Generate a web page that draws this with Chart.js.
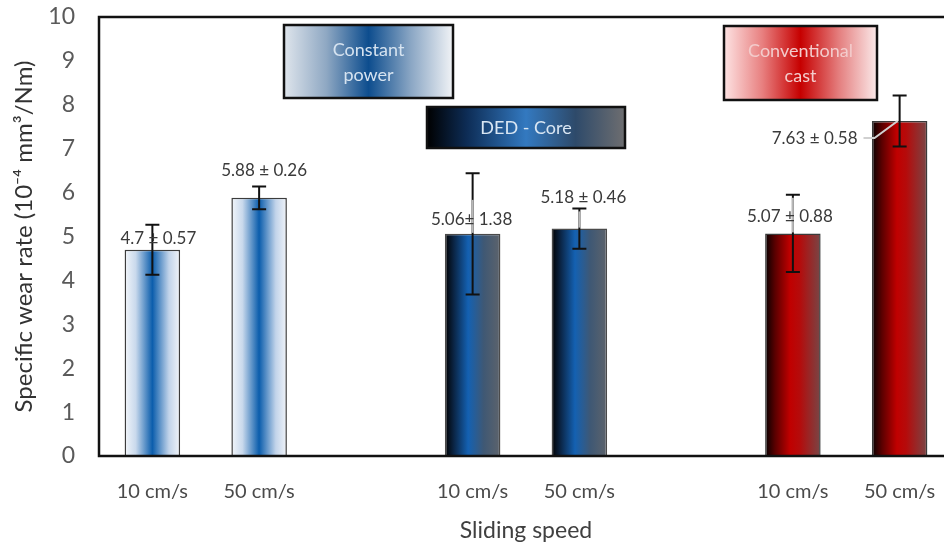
<!DOCTYPE html>
<html>
<head>
<meta charset="utf-8">
<script src="https://cdn.jsdelivr.net/npm/chart.js@4.4.1/dist/chart.umd.min.js"></script>
<style>
  html,body{margin:0;padding:0;background:#fff;overflow:hidden}
  #wrap{position:absolute;left:0;top:0;width:953px;height:549px}
</style>
</head>
<body>
<div id="wrap"><canvas id="c" width="953" height="549"></canvas></div>
<script>
// Data
const speeds = ['10 cm/s','50 cm/s','','10 cm/s','50 cm/s','','10 cm/s','50 cm/s'];
const wearRate = [4.7, 5.88, null, 5.06, 5.18, null, 5.07, 7.63];
const wearErr  = [0.57, 0.26, null, 1.38, 0.46, null, 0.88, 0.58];
const valueLabels = ['4.7 ± 0.57','5.88 ± 0.26','','5.06± 1.38','5.18 ± 0.46','','5.07 ± 0.88','7.63 ± 0.58'];
const barGroup = [0, 0, null, 1, 1, null, 2, 2];
const groupNames = [['Constant','power'], ['DED - Core'], ['Conventional','cast']];
const yTicks = [0,1,2,3,4,5,6,7,8,9,10];

const FONT = "Lato, 'Open Sans', sans-serif";
const BAR_PCT = 0.52;

// horizontal gradient stops per group
const barStops = [
  [[0,'#f3f6fa'],[0.2,'#c9d9ec'],[0.5,'#0b5dac'],[0.8,'#c2d4ea'],[1,'#f1f4f9']],
  [[0,'#000000'],[0.15,'#0a2240'],[0.42,'#1461b2'],[0.7,'#3f5874'],[1,'#5d636b']],
  [[0,'#050000'],[0.18,'#5a0000'],[0.45,'#c00000'],[0.62,'#b50b0b'],[1,'#784646']]
];
const boxStops = [
  [[0,'#dfe5ec'],[0.25,'#8fa8c3'],[0.5,'#0d4d8e'],[0.75,'#8aa6c4'],[1,'#f1f3f6']],
  [[0,'#000000'],[0.2,'#0d2c55'],[0.5,'#3379c0'],[0.75,'#2e4a6a'],[1,'#6e6e70']],
  [[0,'#fde3e3'],[0.25,'#e88080'],[0.5,'#c60000'],[0.75,'#e47e7e'],[1,'#fbeaea']]
];

function grad(ctx, x0, x1, stops){
  const g = ctx.createLinearGradient(x0, 0, x1, 0);
  stops.forEach(s => g.addColorStop(s[0], s[1]));
  return g;
}

const extras = {
  id: 'extras',
  afterDatasetsDraw(chart, args, opts){
    const {ctx, chartArea: a, scales:{x, y}} = chart;
    const meta = chart.getDatasetMeta(0);
    ctx.save();
    // plot frame
    ctx.strokeStyle = '#111'; ctx.lineWidth = 2.5;
    ctx.strokeRect(a.left, a.top, a.right - a.left + 5, a.bottom - a.top);

    // error bars
    meta.data.forEach((bar, i) => {
      if (wearRate[i] == null) return;
      const cx = bar.x;
      const yHi = y.getPixelForValue(wearRate[i] + wearErr[i]);
      const yLo = y.getPixelForValue(wearRate[i] - wearErr[i]);
      const yTop = y.getPixelForValue(wearRate[i]);
      ctx.strokeStyle = '#111'; ctx.lineWidth = 2;
      ctx.beginPath();
      ctx.moveTo(cx, yHi); ctx.lineTo(cx, yLo);
      ctx.moveTo(cx - 7, yHi); ctx.lineTo(cx + 7, yHi);
      ctx.moveTo(cx - 7, yLo); ctx.lineTo(cx + 7, yLo);
      ctx.stroke();
      const fade = opts.upperFade[i];
      if (fade) {
        ctx.strokeStyle = '#b8b8b8';
        ctx.beginPath(); ctx.moveTo(cx, Math.max(yTop - fade, yHi + 3)); ctx.lineTo(cx, yTop - 1); ctx.stroke();
      }
    });

    // value labels
    ctx.font = '17px ' + FONT;
    ctx.fillStyle = '#3a3a3a';
    ctx.textAlign = 'center'; ctx.textBaseline = 'middle';
    meta.data.forEach((bar, i) => {
      if (!valueLabels[i]) return;
      const [dx, dy] = opts.labelOffset[i];
      const lx = bar.x + dx, ly = bar.y + dy;
      ctx.fillText(valueLabels[i], lx, ly);
      if (opts.leader[i]) {
        const w = ctx.measureText(valueLabels[i]).width;
        ctx.strokeStyle = '#d0d0d0'; ctx.lineWidth = 2;
        ctx.beginPath();
        ctx.moveTo(lx + w/2 + 6, ly);
        ctx.lineTo(lx + w/2 + 17, ly);
        ctx.lineTo(bar.x - 2, bar.y);
        ctx.stroke();
      }
    });

    // group boxes
    opts.boxes.forEach((b, g) => {
      ctx.fillStyle = grad(ctx, b.x, b.x + b.w, boxStops[g]);
      ctx.fillRect(b.x, b.y, b.w, b.h);
      ctx.strokeStyle = '#111'; ctx.lineWidth = 2.5;
      ctx.strokeRect(b.x, b.y, b.w, b.h);
      ctx.fillStyle = b.text;
      ctx.font = '18px ' + FONT;
      const lines = groupNames[g];
      const lh = 25;
      lines.forEach((t, k) => {
        ctx.fillText(t, b.x + b.w/2, b.y + b.h/2 + (k - (lines.length - 1)/2) * lh + 1);
      });
    });
    ctx.restore();
  }
};

new Chart(document.getElementById('c'), {
  type: 'bar',
  data: {
    labels: speeds,
    datasets: [{
      data: wearRate,
      backgroundColor(c){
        const ch = c.chart, a = ch.chartArea;
        const g = barGroup[c.dataIndex];
        if (!a || g == null) return '#888';
        const xs = ch.scales.x;
        const cx = xs.getPixelForValue(c.dataIndex);
        const half = (xs.width / speeds.length) * BAR_PCT / 2;
        return grad(ch.ctx, cx - half, cx + half, barStops[g]);
      },
      borderColor: ['#3c3c3c','#3c3c3c',null,'#4a4a4a','#4a4a4a',null,'#3a3a3a','#3a3a3a'],
      borderWidth: 1.5,
      borderSkipped: 'bottom',
      categoryPercentage: 1,
      barPercentage: BAR_PCT
    }]
  },
  options: {
    responsive: false,
    animation: false,
    devicePixelRatio: 1,
    layout: { padding: { top: 17, right: 0, left: 0, bottom: 0 } },
    plugins: {
      legend: { display: false },
      tooltip: { enabled: false },
      extras: {
        labelOffset: [[6,-11],[5,-27],[0,0],[-1,-14],[4,-31],[0,0],[-3,-17],[-85,17]],
        leader: [false,false,false,false,false,false,false,true],
        upperFade: [0,0,0,34,19,0,36,0],
        boxes: [
          { x: 284, y: 25, w: 169, h: 73, text: '#d6e3f0' },
          { x: 427, y: 107, w: 198, h: 41, text: '#d9e6f3' },
          { x: 724, y: 26, w: 153, h: 74, text: '#f3cccc' }
        ]
      }
    },
    scales: {
      x: {
        grid: { display: false, drawTicks: false },
        border: { display: false },
        ticks: { color: '#4a4a4a', font: { family: FONT, size: 20 }, padding: 24, maxRotation: 0, autoSkip: false },
        title: { display: true, text: 'Sliding speed', color: '#404040', font: { family: FONT, size: 23 }, padding: { top: 0, bottom: 5 } },
        afterFit(s){ s.height = 93; s.paddingLeft = 0; s.paddingRight = 0; }
      },
      y: {
        min: 0, max: 10,
        afterBuildTicks(s){ s.ticks = yTicks.map(v => ({ value: v })); },
        grid: { display: false, drawTicks: false },
        border: { display: false },
        ticks: { color: '#5a5a5a', font: { family: FONT, size: 23 }, padding: 24 },
        title: { display: true, text: 'Specific wear rate (10⁻⁴ mm³/Nm)', color: '#333', font: { family: FONT, size: 24 }, padding: { top: 10, bottom: 0 } },
        afterFit(s){ s.width = 99; s.paddingTop = 0; s.paddingBottom = 0; }
      }
    }
  },
  plugins: [extras]
});
</script>
</body>
</html>
